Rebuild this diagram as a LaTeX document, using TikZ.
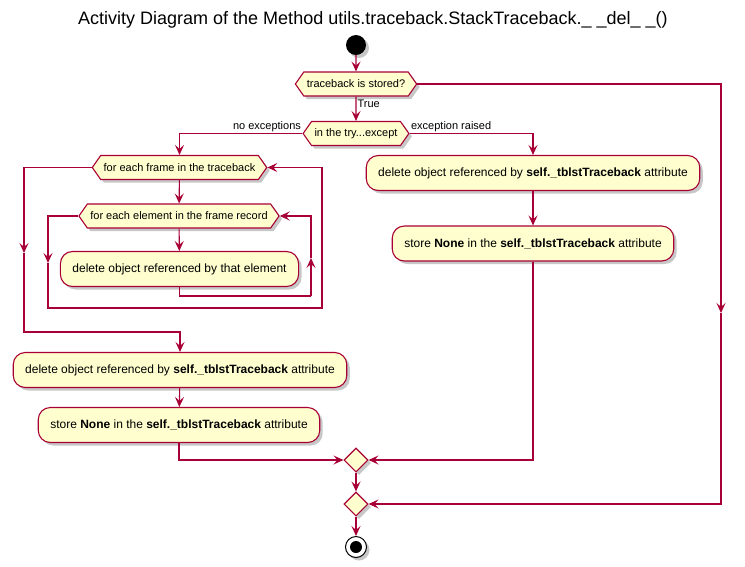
\documentclass[tikz,border=0pt]{standalone}
\usepackage{fontspec}
\setmainfont{Liberation Sans}
\usepackage{tikz}
\usetikzlibrary{positioning, arrows.meta, shapes.symbols, shapes.geometric, shadows}
\usepackage{xcolor}
\definecolor{umlLine}{HTML}{A80036}
\definecolor{umlFill}{HTML}{FEFECE}

\begin{document}
\begin{tikzpicture}[x=1pt, y=-1pt, >={Stealth[length=10pt, width=9pt, inset=4pt]},
  font=\fontsize{12}{14}\selectfont,
  line/.style={umlLine, line width=1.1pt},
  flow/.style={line, ->},
  shade/.style={drop shadow={shadow xshift=3pt, shadow yshift=-3pt, opacity=0.22, fill=black}},
  act/.style={draw=umlLine, line width=1.1pt, fill=umlFill, rounded corners=12pt,
    minimum height=35pt, inner xsep=12pt, shade},
  choice/.style={draw=umlLine, line width=1.1pt, fill=umlFill, shape=signal,
    signal to=west and east, signal pointer angle=110, minimum height=24pt,
    inner xsep=3pt, inner ysep=2pt, font=\fontsize{11}{13}\selectfont, shade},
  merge/.style={draw=umlLine, line width=1.1pt, fill=umlFill, diamond,
    minimum width=24pt, minimum height=24pt, inner sep=0pt, shade},
  lbl/.style={font=\fontsize{11}{13}\selectfont, text=black, inner sep=1pt}]
  \useasboundingbox (0,0) rectangle (745,566);

  % title and start
  \node (title) at (373,20) {\fontsize{18}{22}\selectfont Activity Diagram of the Method utils.traceback.StackTraceback.\_ \_del\_ \_()};
  \node[circle, fill=black, minimum size=20pt, inner sep=0pt, shade] (start) at (356,45) {};
  \node[choice] (stored) at (356,84) {traceback is stored?};
  \node[choice] (trycatch) at (356,133.5) {in the try...except};
  \draw[flow] (start) -- (stored);
  \draw[flow] (stored) -- node[lbl, right, pos=0.3] {True} (trycatch);

  % no exceptions: nested loops
  \node[choice] (eachFrame) at (179.5,167.5) {for each frame in the traceback};
  \node[choice] (eachElem) at (179,216) {for each element in the frame record};
  \node[act] (delElem) at (179.5,269) {delete object referenced by that element};
  \draw[flow] (trycatch.west) -| node[lbl, above left, pos=0] {no exceptions} (eachFrame.north);
  \draw[flow] (eachFrame) -- (eachElem);
  \draw[flow] (eachElem) -- (delElem);

  \coordinate (innerB) at (311,296);
  \coordinate (innerM) at (311,258);
  \draw[line] (delElem.south) |- (innerB);
  \draw[flow] (innerB) -- (innerM);
  \draw[flow] (innerM) |- (eachElem.east);

  \coordinate (innerL) at (48,263);
  \coordinate (loopB) at (322,308);
  \draw[flow] (eachElem.west) -| (innerL);
  \draw[flow] (innerL) |- (loopB) |- (eachFrame.east);

  \node[act] (delAttrL) at (180,370) {delete object referenced by \textbf{self.\_tblstTraceback} attribute};
  \node[act] (storeL) at (179,425) {store \textbf{None} in the \textbf{self.\_tblstTraceback} attribute};
  \coordinate (outerL) at (24,253);
  \coordinate (outerB) at (24,332);
  \draw[flow] (eachFrame.west) -| (outerL);
  \draw[flow] (outerL) -- (outerB) -| (delAttrL.north);
  \draw[flow] (delAttrL) -- (storeL);

  % exception raised
  \node[act] (delAttrR) at (533,173) {delete object referenced by \textbf{self.\_tblstTraceback} attribute};
  \node[act] (storeR) at (533,243.5) {store \textbf{None} in the \textbf{self.\_tblstTraceback} attribute};
  \draw[flow] (trycatch.east) -| node[lbl, above right, pos=0] {exception raised} (delAttrR.north);
  \draw[flow] (delAttrR) -- (storeR);

  % merges and end
  \node[merge] (merge1) at (356,460) {};
  \node[merge] (merge2) at (356,504) {};
  \node[circle, draw=black, fill=white, line width=1pt, minimum size=21pt, inner sep=0pt, shade] (stop) at (356,547) {};
  \fill[black] (stop.center) circle[radius=6pt];
  \draw[flow] (storeL.south) |- (merge1.west);
  \draw[flow] (storeR.south) |- (merge1.east);
  \draw[flow] (merge1) -- (merge2);
  \coordinate (rightM) at (721,313);
  \draw[flow] (stored.east) -| (rightM);
  \draw[flow] (rightM) |- (merge2.east);
  \draw[flow] (merge2) -- (stop);
\end{tikzpicture}
\end{document}
